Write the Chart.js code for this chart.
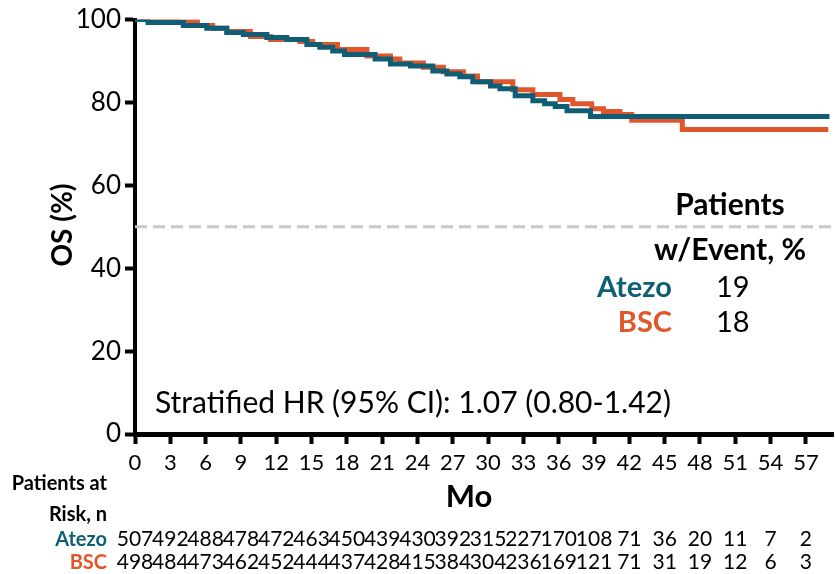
<!DOCTYPE html>
<html>
<head>
<meta charset="utf-8">
<script src="https://cdn.jsdelivr.net/npm/chart.js@4/dist/chart.umd.min.js"></script>
<style>
  body { margin: 0; background: #fff; }
  canvas { display: block; }
</style>
</head>
<body>
<canvas id="km" width="835" height="574"></canvas>
<script>
// Kaplan-Meier steps (months, OS %)
const atezoTimes = [0, 1.1, 4.1, 6.1, 7.8, 9.2, 11.2, 12.9, 14.6, 15.7, 16.8, 17.8, 20.4, 21.7, 23.4, 25.3, 26.5, 27.6, 28.7, 30.2, 31.0, 32.3, 33.8, 34.8, 35.7, 36.7, 38.7, 59.0];
const atezoSurv  = [100, 99.3, 98.6, 97.9, 96.9, 96.4, 95.7, 95.2, 94.0, 93.3, 92.4, 91.6, 90.5, 89.3, 88.8, 87.6, 86.9, 86.2, 85.0, 84.0, 83.3, 81.6, 80.4, 79.7, 79.0, 78.0, 76.6, 76.6];

const bscTimes = [0, 3.6, 5.3, 6.6, 7.8, 9.8, 11.5, 14.0, 15.1, 17.2, 19.7, 21.7, 22.5, 24.5, 26.2, 27.9, 29.1, 32.1, 33.8, 36.1, 37.2, 38.8, 39.8, 41.2, 42.2, 46.5, 58.9];
const bscSurv  = [100, 99.5, 98.6, 97.9, 97.1, 95.9, 95.2, 94.7, 94.0, 92.8, 91.2, 90.5, 89.5, 88.5, 87.4, 86.4, 85.0, 83.1, 81.9, 80.7, 79.7, 78.5, 77.8, 77.1, 75.7, 73.5, 73.5];

// patients at risk under each x tick
const riskMonths = [0, 3, 6, 9, 12, 15, 18, 21, 24, 27, 30, 33, 36, 39, 42, 45, 48, 51, 54, 57];
const atezoAtRisk = [507, 492, 488, 478, 472, 463, 450, 439, 430, 392, 315, 227, 170, 108, 71, 36, 20, 11, 7, 2];
const bscAtRisk   = [498, 484, 473, 462, 452, 444, 437, 428, 415, 384, 304, 236, 169, 121, 71, 31, 19, 12, 6, 3];

const arms = ['Atezo', 'BSC'];
const eventPct = [19, 18];
const hrText = 'Stratified HR (95% CI): 1.07 (0.80-1.42)';
const medianLine = 50;
const xMax = 59.3;

const TEAL = '#105e76';
const ORANGE = '#e1562a';
const FONT = 'Lato, "Open Sans", sans-serif';

function toPoints(xs, ys) {
  return xs.map((t, i) => ({ x: t, y: ys[i] }));
}

const annotations = {
  id: 'kmText',
  afterDraw(chart) {
    const ctx = chart.ctx;
    const xs = chart.scales.x;
    ctx.save();
    ctx.fillStyle = '#000';
    ctx.textBaseline = 'alphabetic';

    // axis titles
    ctx.font = 'bold 28px ' + FONT;
    ctx.textAlign = 'center';
    ctx.save();
    ctx.translate(72, 225);
    ctx.rotate(-Math.PI / 2);
    ctx.fillText('OS (%)', 0, 0);
    ctx.restore();
    ctx.font = 'bold 31px ' + FONT;
    ctx.fillText('Mo', 469, 507);

    // events box
    ctx.font = 'bold 30px ' + FONT;
    ctx.fillText('Patients', 730, 215);
    ctx.fillText('w/Event, %', 730, 260);
    const boxRows = [297, 332];
    arms.forEach((arm, i) => {
      ctx.textAlign = 'right';
      ctx.font = 'bold 29px ' + FONT;
      ctx.fillStyle = i === 0 ? TEAL : ORANGE;
      ctx.fillText(arm, 672, boxRows[i]);
      ctx.textAlign = 'left';
      ctx.font = '29px ' + FONT;
      ctx.fillStyle = '#000';
      ctx.fillText(String(eventPct[i]), 716, boxRows[i]);
    });

    ctx.textAlign = 'left';
    ctx.font = '30px ' + FONT;
    ctx.fillText(hrText, 155, 413);

    // at-risk table
    ctx.textAlign = 'right';
    ctx.font = 'bold 20px ' + FONT;
    ctx.fillText('Patients at', 107, 490);
    ctx.fillText('Risk, n', 107, 521);
    const riskRows = [[atezoAtRisk, TEAL, 546], [bscAtRisk, ORANGE, 569]];
    riskRows.forEach(([vals, color, y], i) => {
      ctx.textAlign = 'right';
      ctx.font = 'bold 20px ' + FONT;
      ctx.fillStyle = color;
      ctx.fillText(arms[i], 107, y);
      ctx.textAlign = 'center';
      ctx.font = '21px ' + FONT;
      ctx.fillStyle = '#000';
      vals.forEach((v, j) => {
        ctx.fillText(String(v), xs.getPixelForValue(riskMonths[j]), y);
      });
    });
    ctx.restore();
  }
};

new Chart(document.getElementById('km').getContext('2d'), {
  type: 'line',
  data: {
    datasets: [
      {
        label: 'Atezo',
        data: toPoints(atezoTimes, atezoSurv),
        borderColor: TEAL,
        borderWidth: 5,
        stepped: 'before',
        pointRadius: 0,
        fill: false,
      },
      {
        label: 'BSC',
        data: toPoints(bscTimes, bscSurv),
        borderColor: ORANGE,
        borderWidth: 5,
        stepped: 'before',
        pointRadius: 0,
        fill: false,
      },
      {
        label: 'median',
        data: [{ x: 0, y: medianLine }, { x: xMax, y: medianLine }],
        borderColor: '#c9c9c9',
        borderWidth: 3,
        borderDash: [12, 6],
        pointRadius: 0,
        fill: false,
      },
    ],
  },
  options: {
    responsive: false,
    animation: false,
    layout: { padding: { top: 15, right: 2, left: 0, bottom: 0 } },
    plugins: {
      legend: { display: false },
      tooltip: { enabled: false },
    },
    scales: {
      x: {
        type: 'linear',
        min: 0,
        max: xMax,
        afterFit: (scale) => { scale.height = 140; },
        afterBuildTicks: (scale) => {
          scale.ticks = riskMonths.map((m) => ({ value: m }));
        },
        border: { color: '#000', width: 5 },
        grid: { drawOnChartArea: false, tickLength: 10, tickWidth: 4, tickColor: '#000' },
        ticks: {
          autoSkip: false,
          maxRotation: 0,
          padding: 6,
          color: '#000',
          font: { family: FONT, size: 22 },
        },
      },
      y: {
        min: 0,
        max: 100,
        afterFit: (scale) => { scale.width = 135; },
        border: { color: '#000', width: 4 },
        grid: { drawOnChartArea: false, tickLength: 10, tickWidth: 4, tickColor: '#000' },
        ticks: {
          stepSize: 20,
          padding: 4,
          color: '#000',
          font: { family: FONT, size: 26 },
        },
      },
    },
  },
  plugins: [annotations],
});
</script>
</body>
</html>
